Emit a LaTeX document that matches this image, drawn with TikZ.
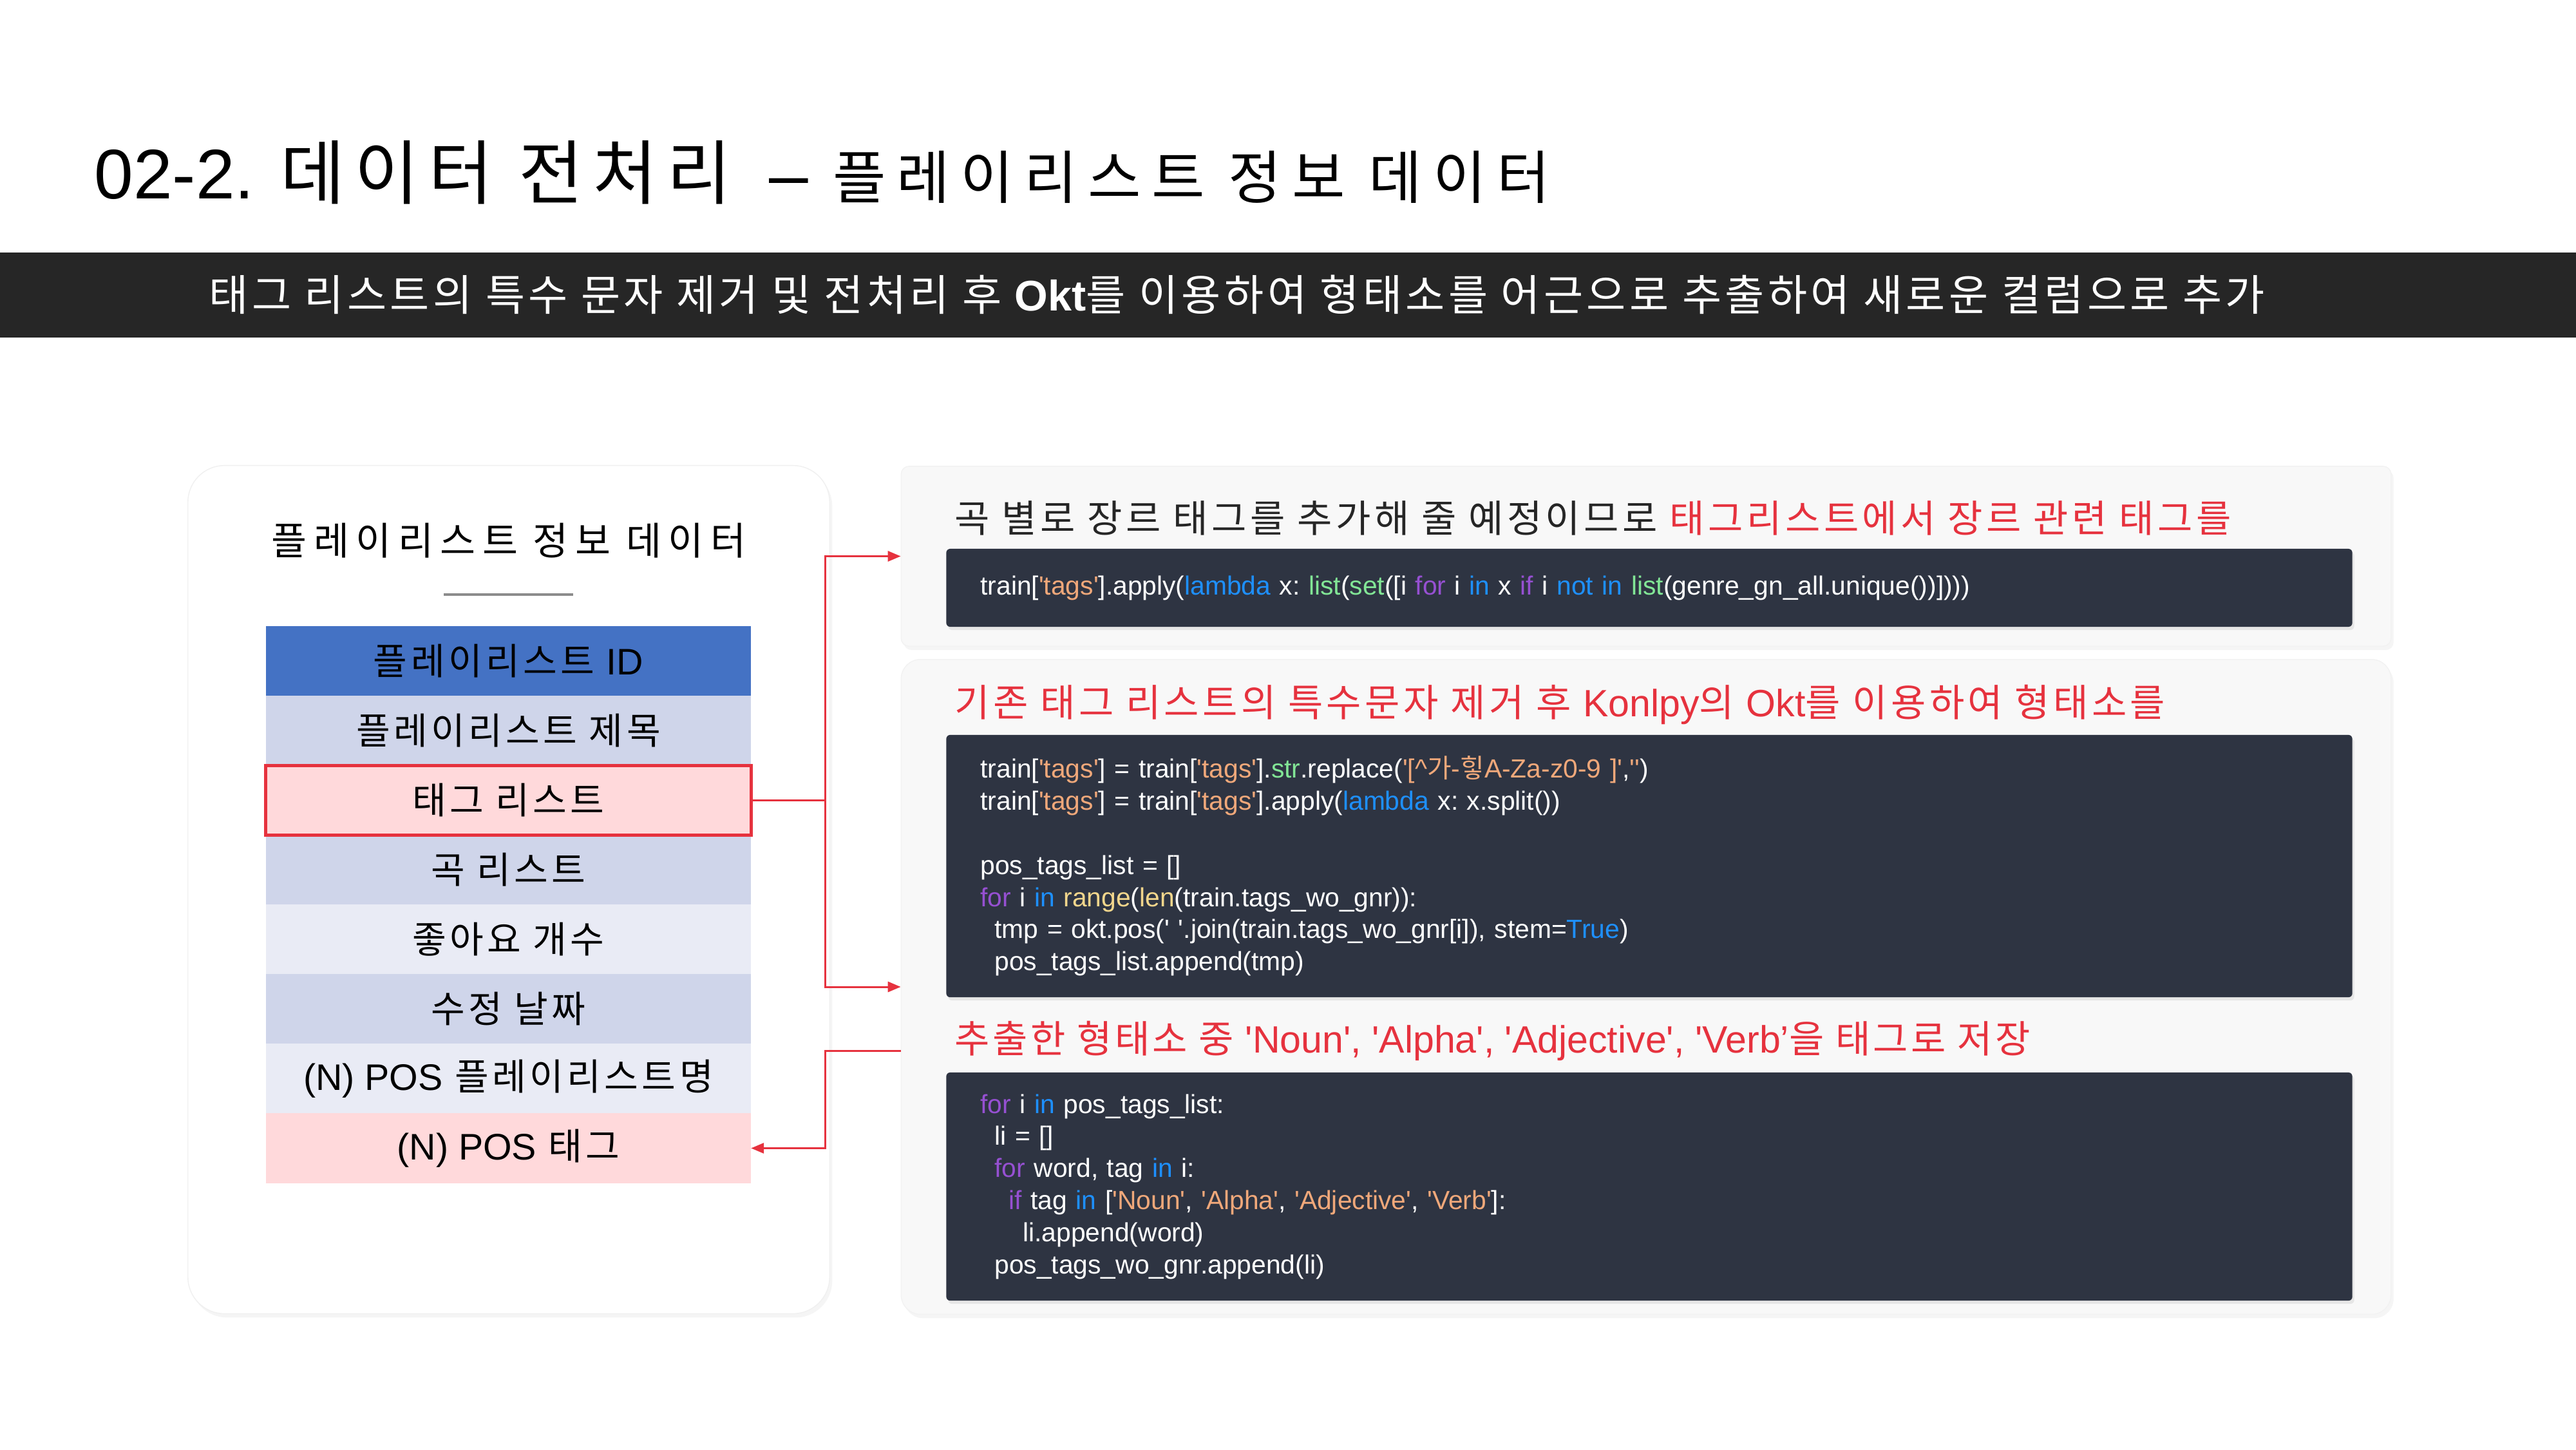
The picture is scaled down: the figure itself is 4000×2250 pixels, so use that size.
\documentclass[tikz,border=0pt]{standalone}
\usepackage{fontspec}
\setmainfont{Noto Sans CJK KR}
\newfontfamily\lat{Liberation Sans}
\newfontfamily\kr{Noto Sans CJK KR}
\usetikzlibrary{arrows.meta, positioning, shadows, calc}
\usepackage{xcolor}
\definecolor{bandgray}{RGB}{38, 38, 38}
\definecolor{codebg}{RGB}{46, 52, 66}
\definecolor{panelbg}{RGB}{248, 248, 248}
\definecolor{idblue}{RGB}{68, 114, 196}
\definecolor{rowdark}{RGB}{207, 213, 234}
\definecolor{rowlight}{RGB}{233, 235, 245}
\definecolor{rowpink}{RGB}{255, 217, 219}
\definecolor{hlred}{RGB}{230, 50, 62}
\definecolor{strorange}{RGB}{240, 168, 122}
\definecolor{kwblue}{RGB}{30, 144, 255}
\definecolor{kwpurple}{RGB}{150, 80, 210}
\definecolor{fngreen}{RGB}{130, 230, 150}
\definecolor{fnyellow}{RGB}{242, 214, 140}
% code colouring
\newcommand\strc[1]{\textcolor{strorange}{#1}}
\newcommand\kwb[1]{\textcolor{kwblue}{#1}}
\newcommand\kwp[1]{\textcolor{kwpurple}{#1}}
\newcommand\fng[1]{\textcolor{fngreen}{#1}}
\newcommand\fny[1]{\textcolor{fnyellow}{#1}}
\newcommand\ind{\hspace*{0.22cm}}
\newcommand\spaced[1]{\addfontfeature{LetterSpace=#1}}
\newcommand\codefont{\lat\fontsize{11.6}{14.17}\selectfont\frenchspacing}
\newcommand\headfont{\fontsize{16.8}{20}\selectfont}
\newcommand\rowfont{\fontsize{16.3}{18}\selectfont\spaced{9.5}}
\tikzset{
  card/.style={
    rectangle, rounded corners=0.57cm,
    fill=white, draw=black!6,
    minimum width=9.96cm, minimum height=13.16cm,
    drop shadow={opacity=0.08, shadow xshift=0.04cm, shadow yshift=-0.06cm}
  },
  panel/.style={
    rectangle, fill=panelbg, draw=black!5,
    minimum width=23.12cm,
    drop shadow={opacity=0.08, shadow xshift=0.04cm, shadow yshift=-0.06cm}
  },
  codebox/.style={
    rectangle, rounded corners=0.06cm,
    fill=codebg, text=white,
    text width=20.76cm, inner xsep=0.53cm, inner ysep=0pt,
    align=left, font=\codefont,
    drop shadow={opacity=0.15, shadow xshift=0.03cm, shadow yshift=-0.05cm}
  },
  row/.style={
    rectangle, minimum width=7.53cm, minimum height=1.08cm,
    inner sep=0pt, outer sep=0pt, font=\rowfont
  },
  heading/.style={anchor=west, inner sep=0pt, font=\headfont\spaced{#1}},
  heading/.default=7.5,
  redarr/.style={-{Triangle[length=0.2cm, width=0.16cm]}, hlred, line width=0.85pt},
}

\begin{document}
\begin{tikzpicture}[x=0.01cm, y=-0.01cm]
    \fill[white] (0,0) rectangle (4000,2250);
    \useasboundingbox (0,0) rectangle (4000,2250);

    % title and banner
    \node[anchor=base west, inner sep=0pt] (title) at (146,308)
      {{\lat\fontsize{31}{31}\selectfont 02-2.}\hspace{0.3cm} {\fontsize{31}{31}\selectfont\spaced{13.5}데이터 전처리\hspace{0.2cm} {\lat –}}\hspace{0.3cm} {\fontsize{25.5}{26}\selectfont\spaced{18.5}플레이리스트 정보 데이터}};
    \node[rectangle, fill=bandgray, minimum width=40cm, minimum height=1.32cm, inner sep=0pt] (band) at (2000,458) {};
    \node[anchor=west, inner sep=0pt, text=white, font=\fontsize{18.9}{20}\selectfont\spaced{8.2}] (bandtxt) at (324,457)
      {태그 리스트의 특수 문자 제거 및 전처리 후 {\lat\bfseries Okt}를 이용하여 형태소를 어근으로 추출하여 새로운 컬럼으로 추가};

    % left card with the table
    \node[card] (card) at (790,1381) {};
    \node[font=\fontsize{17}{18}\selectfont\spaced{17.5}] (cardtitle) at (790,839) {플레이리스트 정보 데이터};
    \draw[black!45, line width=1.1pt] (689,923) -- (890,923);

    \node[row, fill=idblue] (pid) at (789.5,1026) {플레이리스트 {\lat ID}};
    \node[row, fill=rowdark, below=0pt of pid]       (ptitle)  {플레이리스트 제목};
    \node[row, fill=rowpink, below=0pt of ptitle]    (tags)    {태그 리스트};
    \node[row, fill=rowdark, below=0pt of tags]      (songs)   {곡 리스트};
    \node[row, fill=rowlight, below=0pt of songs]    (likes)   {좋아요 개수};
    \node[row, fill=rowdark, below=0pt of likes]     (updt)    {수정 날짜};
    \node[row, fill=rowlight, below=0pt of updt]     (posname) {{\lat (N) POS} 플레이리스트명};
    \node[row, fill=rowpink, below=0pt of posname]   (postag)  {{\lat (N) POS} 태그};
    \draw[hlred, line width=1.4pt] (tags.north west) rectangle (tags.south east);

    % right panels
    \node[panel, rounded corners=0.12cm, minimum height=2.79cm] (panel1) at (2556,863.5) {};
    \node[panel, rounded corners=0.3cm, minimum height=10.16cm] (panel2) at (2556,1532) {};

    \node[heading=9.3] (head1) at (1482,804)
      {{\color{black!85}곡 별로 장르 태그를 추가해 줄 예정이므로} \textcolor{hlred}{태그리스트에서 장르 관련 태그를}};
    \node[codebox, minimum height=1.21cm] (code1) at (2561,912.5)
      {train[\strc{'tags'}].apply(\kwb{lambda} x: \fng{list}(\fng{set}([i \kwp{for} i \kwb{in} x \kwp{if} i \kwb{not in} \fng{list}(genre\_gn\_all.unique())])))};

    \node[heading=9.1, text=hlred] (head2) at (1482,1094)
      {기존 태그 리스트의 특수문자 제거 후 {\lat Konlpy}의 {\lat Okt}를 이용하여 형태소를};
    \node[codebox, minimum height=4.07cm] (code2) at (2561,1344.5)
      {train[\strc{'tags'}] = train[\strc{'tags'}].\fng{str}.replace(\strc{'[\textasciicircum{\kr 가}-{\kr 힣}A-Za-z0-9 ]'},\strc{''})\\
       train[\strc{'tags'}] = train[\strc{'tags'}].apply(\kwb{lambda} x: x.split())\\
       \mbox{}\\
       pos\_tags\_list = []\\
       \kwp{for} i \kwb{in} \fny{range}(\fny{len}(train.tags\_wo\_gnr)):\\
       \ind tmp = okt.pos(' '.join(train.tags\_wo\_gnr[i]), stem=\kwb{True})\\
       \ind pos\_tags\_list.append(tmp)};

    \node[heading, text=hlred] (head3) at (1482,1616)
      {추출한 형태소 중 {\lat\spaced{0}'Noun', 'Alpha', 'Adjective', 'Verb’}을 태그로 저장};
    \node[codebox, minimum height=3.54cm] (code3) at (2561,1842)
      {\kwp{for} i \kwb{in} pos\_tags\_list:\\
       \ind li = []\\
       \ind\kwp{for} word, tag \kwb{in} i:\\
       \ind\ind\kwp{if} tag \kwb{in} [\strc{'Noun'}, \strc{'Alpha'}, \strc{'Adjective'}, \strc{'Verb'}]:\\
       \ind\ind\ind li.append(word)\\
       \ind pos\_tags\_wo\_gnr.append(li)};

    % connectors
    \draw[redarr] (tags.east) -- ++(115,0) |- (panel1.west);
    \draw[redarr] (tags.east) -- ++(115,0) |- (panel2.west);
    \coordinate (back) at ([yshift=-0.99cm]panel2.west);
    \draw[redarr] (back) -- ++(-117,0) |- (postag.east);
\end{tikzpicture}
\end{document}
